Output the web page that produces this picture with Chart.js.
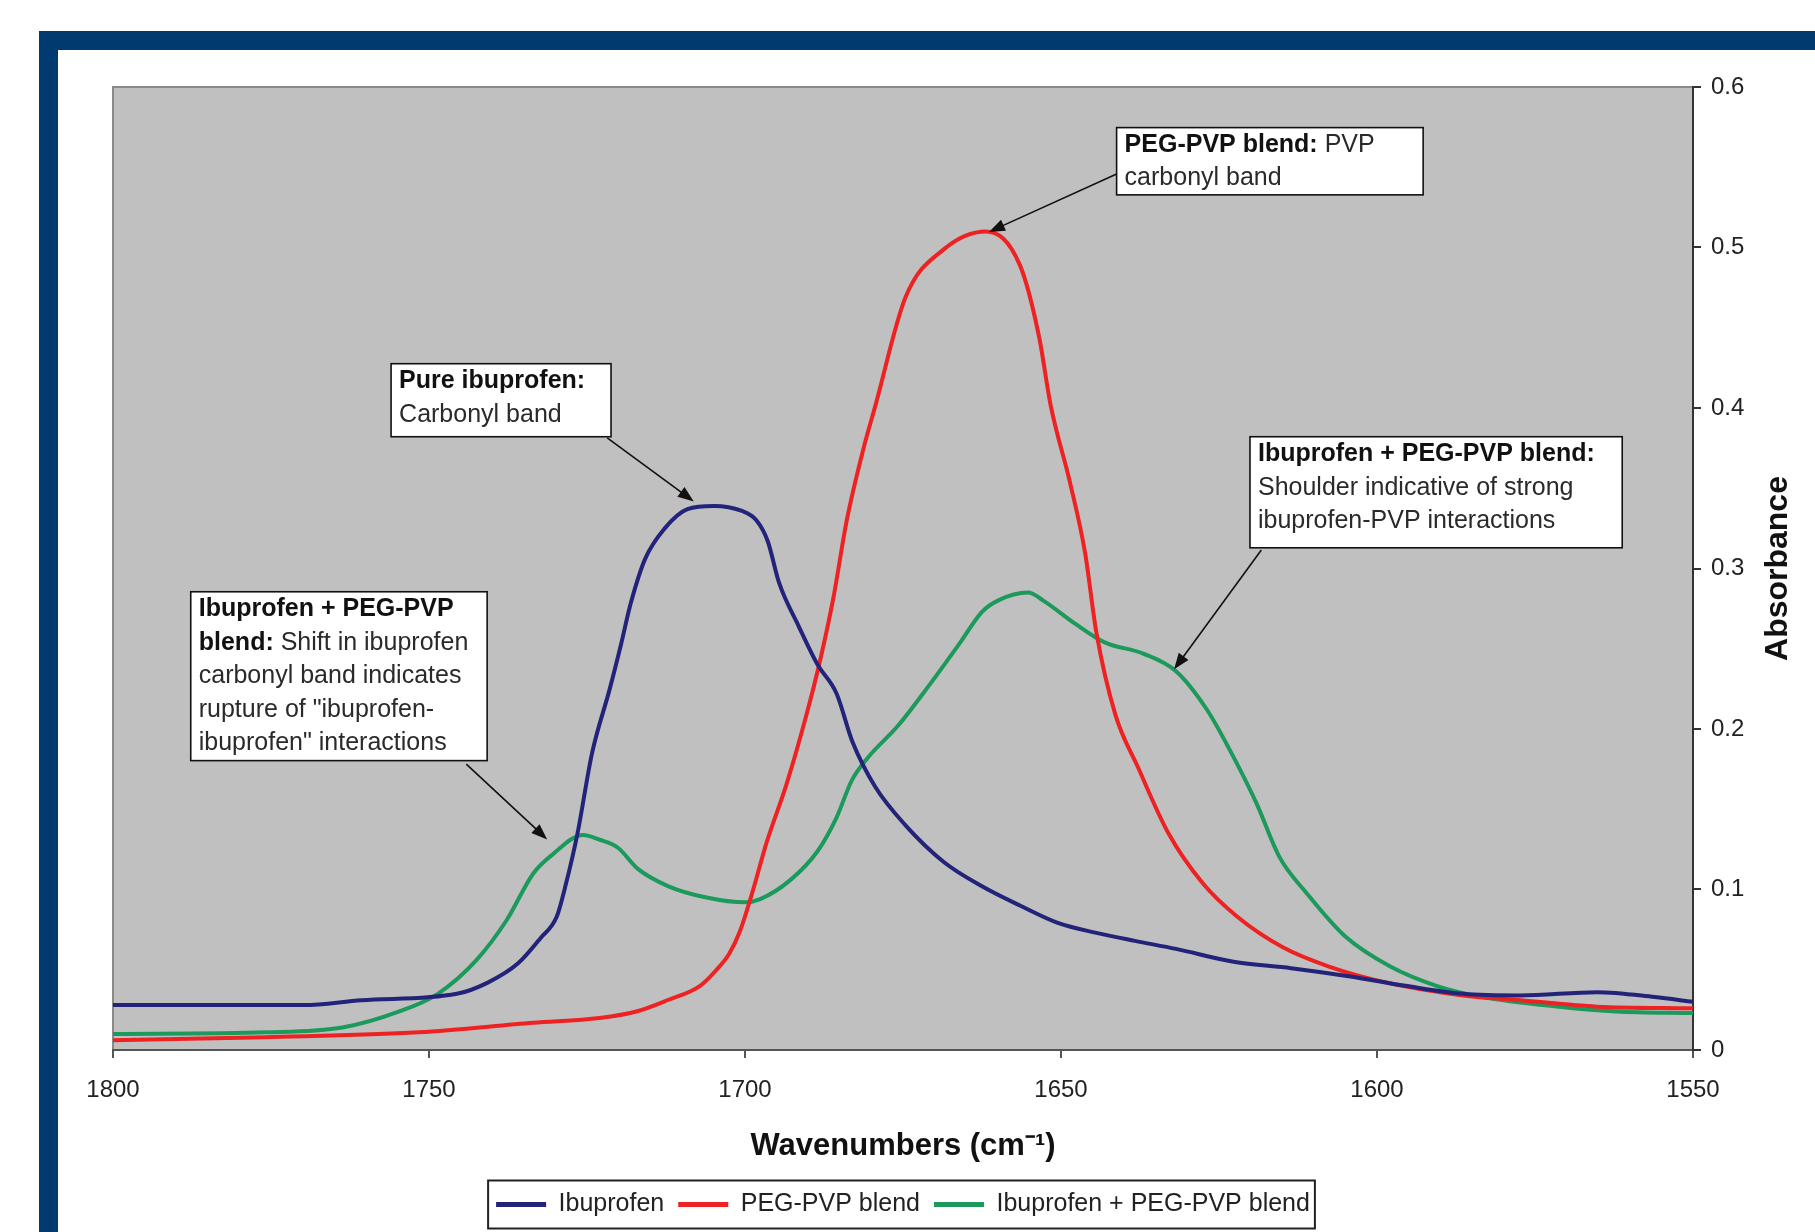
<!DOCTYPE html>
<html>
<head>
<meta charset="utf-8">
<script src="https://cdn.jsdelivr.net/npm/chart.js@4.4.1/dist/chart.umd.min.js"></script>
<style>
  html, body { margin: 0; padding: 0; background: #fff; }
  #frame {
    position: absolute; left: 39px; top: 31px; right: 0; bottom: 0;
    border-top: 19px solid #003a6e; border-left: 19px solid #003a6e;
  }
  #wrap { position: absolute; left: 0; top: 0; width: 1815px; height: 1232px; }
</style>
</head>
<body>
<div id="frame"></div>
<div id="wrap"><canvas id="ftirChart"></canvas></div>
<script>
// Spectra: wavenumber (cm-1) and absorbance
const ibuprofenWn = [1800, 1769.8, 1760.7, 1745.6, 1740.7, 1735.9, 1732.3, 1729.8, 1728.3, 1726.5,
  1724.2, 1721.4, 1719.6, 1718.1, 1715.8, 1712.7, 1709.1, 1704.9, 1700.6, 1698.2,
  1696.4, 1694.6, 1691.5, 1688.5, 1685.5, 1683.0, 1679.4, 1674.6, 1668.5, 1662.5,
  1656.5, 1650.4, 1644.4, 1638.3, 1631.8, 1622.7, 1613.6, 1604.5, 1595.5, 1586.4,
  1577.3, 1565.2, 1556.1, 1550];
const ibuprofenAbs = [0.028, 0.028, 0.031, 0.035, 0.042, 0.054, 0.070, 0.083, 0.104, 0.135,
  0.185, 0.225, 0.253, 0.278, 0.306, 0.325, 0.337, 0.339, 0.336, 0.330,
  0.317, 0.291, 0.264, 0.240, 0.222, 0.192, 0.164, 0.140, 0.117, 0.102,
  0.090, 0.079, 0.073, 0.068, 0.063, 0.055, 0.051, 0.046, 0.040, 0.035,
  0.034, 0.036, 0.033, 0.030];

const pegPvpWn = [1800, 1775.8, 1751.6, 1733.5, 1723.0, 1717.2, 1712.3, 1707.1, 1704.5, 1702.5,
  1700.8, 1698.7, 1696.6, 1693.4, 1690.2, 1688.1, 1686.0, 1683.9, 1681.3, 1679.4,
  1674.6, 1668.5, 1661.9, 1656.5, 1653.5, 1651.6, 1648.6, 1646.2, 1644.4, 1641.4,
  1637.8, 1633.0, 1627.6, 1622.1, 1614.9, 1607.6, 1598.5, 1586.4, 1577.3, 1565.2, 1550];
const pegPvpAbs = [0.006, 0.008, 0.011, 0.017, 0.020, 0.024, 0.031, 0.040, 0.050, 0.060,
  0.074, 0.100, 0.129, 0.166, 0.210, 0.243, 0.282, 0.330, 0.374, 0.401,
  0.469, 0.499, 0.510, 0.489, 0.445, 0.401, 0.354, 0.310, 0.260, 0.209,
  0.176, 0.135, 0.104, 0.083, 0.064, 0.052, 0.042, 0.034, 0.031, 0.027, 0.026];

const blendWn = [1800, 1775.8, 1763.7, 1754.7, 1748.6, 1742.5, 1737.7, 1733.5, 1730.4, 1725.6,
  1723.0, 1720.1, 1717.0, 1712.1, 1706.1, 1700.0, 1697.6, 1692.8, 1688.5, 1685.5,
  1683.1, 1680.6, 1675.8, 1670.9, 1666.1, 1662.5, 1660.0, 1655.2, 1652.8, 1647.9,
  1643.1, 1637.0, 1631.8, 1626.9, 1623.3, 1619.1, 1615.4, 1611.2, 1605.1, 1597.9,
  1590.6, 1583.3, 1571.2, 1562.1, 1550];
const blendAbs = [0.010, 0.011, 0.014, 0.024, 0.035, 0.056, 0.081, 0.110, 0.122, 0.134,
  0.131, 0.126, 0.113, 0.102, 0.095, 0.092, 0.094, 0.106, 0.124, 0.145,
  0.168, 0.182, 0.202, 0.227, 0.253, 0.273, 0.280, 0.285, 0.280, 0.266,
  0.254, 0.247, 0.236, 0.212, 0.187, 0.154, 0.120, 0.098, 0.071, 0.052,
  0.040, 0.033, 0.027, 0.024, 0.023];

const seriesNames = ['Ibuprofen', 'PEG-PVP blend', 'Ibuprofen + PEG-PVP blend'];
const seriesColors = ['#23237a', '#ee2222', '#1c9a5c'];
const xTicks = [1800, 1750, 1700, 1650, 1600, 1550];
const yTicks = [0, 0.1, 0.2, 0.3, 0.4, 0.5, 0.6];

// Callout boxes, given in data units: [left wn, top abs, right wn, bottom abs]
const notes = [
  { box: [1641.2, 0.5747, 1592.7, 0.5328],
    lines: [[['PEG-PVP blend:', true], [' PVP', false]], [['carbonyl band', false]]],
    from: [1641.2, 0.5458], to: [1661.4, 0.5097] },
  { box: [1756.0, 0.4276, 1721.2, 0.3821],
    lines: [[['Pure ibuprofen:', true]], [['Carbonyl band', false]]],
    from: [1721.8, 0.3814], to: [1708.1, 0.3418] },
  { box: [1620.1, 0.3821, 1561.2, 0.3129],
    lines: [[['Ibuprofen + PEG-PVP blend:', true]], [['Shoulder indicative of strong', false]],
            [['ibuprofen-PVP interactions', false]]],
    from: [1618.3, 0.3115], to: [1632.1, 0.2372] },
  { box: [1787.7, 0.2855, 1740.8, 0.1803],
    lines: [[['Ibuprofen + PEG-PVP', true]], [['blend:', true], [' Shift in ibuprofen', false]],
            [['carbonyl band indicates', false]], [['rupture of "ibuprofen-', false]],
            [['ibuprofen" interactions', false]]],
    from: [1744.1, 0.1781], to: [1731.3, 0.1312] }
];

const FONT = '"Liberation Sans", Arial, sans-serif';

function toPoints(wn, abs) {
  return wn.map((w, i) => ({ x: w, y: abs[i] }));
}

function drawArrow(ctx, x1, y1, x2, y2) {
  const ang = Math.atan2(y2 - y1, x2 - x1);
  const len = 16, half = 6;
  ctx.beginPath();
  ctx.moveTo(x1, y1);
  ctx.lineTo(x2 - Math.cos(ang) * len * 0.8, y2 - Math.sin(ang) * len * 0.8);
  ctx.stroke();
  ctx.beginPath();
  ctx.moveTo(x2, y2);
  ctx.lineTo(x2 - Math.cos(ang) * len - Math.sin(ang) * half, y2 - Math.sin(ang) * len + Math.cos(ang) * half);
  ctx.lineTo(x2 - Math.cos(ang) * len + Math.sin(ang) * half, y2 - Math.sin(ang) * len - Math.cos(ang) * half);
  ctx.closePath();
  ctx.fill();
}

// Grey plot area, callouts, rotated y title and the legend frame
const plotDecor = {
  id: 'plotDecor',
  beforeDraw(chart) {
    const { ctx, chartArea: a } = chart;
    ctx.save();
    ctx.fillStyle = '#c0c0c0';
    ctx.fillRect(a.left, a.top, a.width, a.height);
    ctx.strokeStyle = '#8a8a8a';
    ctx.lineWidth = 2;
    ctx.beginPath();
    ctx.moveTo(a.left, a.bottom);
    ctx.lineTo(a.left, a.top);
    ctx.lineTo(a.right, a.top);
    ctx.stroke();
    ctx.restore();
  },
  afterDraw(chart) {
    const { ctx, chartArea: a, scales: { x, y } } = chart;
    ctx.save();

    // callouts
    notes.forEach(n => {
      const l = x.getPixelForValue(n.box[0]), t = y.getPixelForValue(n.box[1]);
      const r = x.getPixelForValue(n.box[2]), b = y.getPixelForValue(n.box[3]);
      ctx.strokeStyle = '#111';
      ctx.fillStyle = '#111';
      ctx.lineWidth = 1.6;
      drawArrow(ctx, x.getPixelForValue(n.from[0]), y.getPixelForValue(n.from[1]),
        x.getPixelForValue(n.to[0]), y.getPixelForValue(n.to[1]));
      ctx.fillStyle = '#fff';
      ctx.fillRect(l, t, r - l, b - t);
      ctx.strokeRect(l, t, r - l, b - t);
      ctx.textBaseline = 'middle';
      ctx.textAlign = 'left';
      n.lines.forEach((segs, i) => {
        let cx = l + 8;
        const cy = t + 17.5 + i * 33.5;
        segs.forEach(([txt, bold]) => {
          ctx.font = (bold ? 'bold ' : '') + '25px ' + FONT;
          ctx.fillStyle = bold ? '#111' : '#2a2a2a';
          ctx.fillText(txt, cx, cy);
          cx += ctx.measureText(txt).width;
        });
      });
    });

    // y axis title, reading bottom to top
    ctx.translate(a.right + 85, (a.top + a.bottom) / 2);
    ctx.rotate(-Math.PI / 2);
    ctx.font = 'bold 32px ' + FONT;
    ctx.fillStyle = '#111';
    ctx.textAlign = 'center';
    ctx.textBaseline = 'middle';
    ctx.fillText('Absorbance', 0, 0);
    ctx.setTransform(1, 0, 0, 1, 0, 0);

    // frame round the legend
    const hb = chart.legend.legendHitBoxes;
    if (hb && hb.length) {
      const left = Math.min(...hb.map(h => h.left)) - 8;
      const right = Math.max(...hb.map(h => h.left + h.width)) + 5;
      const cy = hb[0].top + hb[0].height / 2;
      ctx.strokeStyle = '#222';
      ctx.lineWidth = 2;
      ctx.strokeRect(left, cy - 24, right - left, 48);
    }
    ctx.restore();
  }
};

const ctx = document.getElementById('ftirChart').getContext('2d');
new Chart(ctx, {
  type: 'line',
  data: {
    datasets: [
      { label: seriesNames[0], data: toPoints(ibuprofenWn, ibuprofenAbs), borderColor: seriesColors[0] },
      { label: seriesNames[1], data: toPoints(pegPvpWn, pegPvpAbs), borderColor: seriesColors[1] },
      { label: seriesNames[2], data: toPoints(blendWn, blendAbs), borderColor: seriesColors[2] }
    ]
  },
  options: {
    responsive: true,
    maintainAspectRatio: false,
    animation: false,
    parsing: false,
    layout: { padding: { left: 113, top: 87, right: 0, bottom: 5 } },
    elements: {
      line: { borderWidth: 4, cubicInterpolationMode: 'monotone', fill: false },
      point: { radius: 0 }
    },
    font: { family: FONT },
    plugins: {
      tooltip: { enabled: false },
      legend: {
        position: 'bottom',
        fullSize: false,
        labels: {
          font: { family: FONT, size: 25 },
          color: '#222',
          boxWidth: 50,
          boxHeight: 5,
          padding: 14,
          generateLabels: chart => chart.data.datasets.map((ds, i) => ({
            text: ds.label,
            fillStyle: ds.borderColor,
            strokeStyle: ds.borderColor,
            lineWidth: 0,
            fontColor: '#222',
            datasetIndex: i
          }))
        }
      }
    },
    scales: {
      x: {
        type: 'linear',
        reverse: true,
        min: 1550,
        max: 1800,
        afterBuildTicks: s => { s.ticks = xTicks.map(v => ({ value: v })); },
        afterFit: s => { s.height = 128; },
        ticks: {
          font: { family: FONT, size: 24 },
          color: '#222',
          padding: 18,
          maxRotation: 0,
          callback: v => String(v)
        },
        grid: { drawOnChartArea: false, drawTicks: true, tickLength: 8, color: '#555', lineWidth: 2 },
        border: { display: true, color: '#555', width: 2 },
        title: {
          display: true,
          text: 'Wavenumbers (cm⁻¹)',
          font: { family: FONT, size: 31, weight: 'bold' },
          color: '#111',
          padding: { top: 0, bottom: 13 }
        }
      },
      y: {
        type: 'linear',
        position: 'right',
        min: 0,
        max: 0.6,
        afterBuildTicks: s => { s.ticks = yTicks.map(v => ({ value: v })); },
        afterFit: s => { s.width = 122; },
        ticks: {
          font: { family: FONT, size: 24 },
          color: '#222',
          padding: 10,
          callback: v => String(Math.round(v * 10) / 10)
        },
        grid: { drawOnChartArea: false, drawTicks: true, tickLength: 8, color: '#333', lineWidth: 2 },
        border: { display: true, color: '#333', width: 2 }
      }
    }
  },
  plugins: [plotDecor]
});
</script>
</body>
</html>
